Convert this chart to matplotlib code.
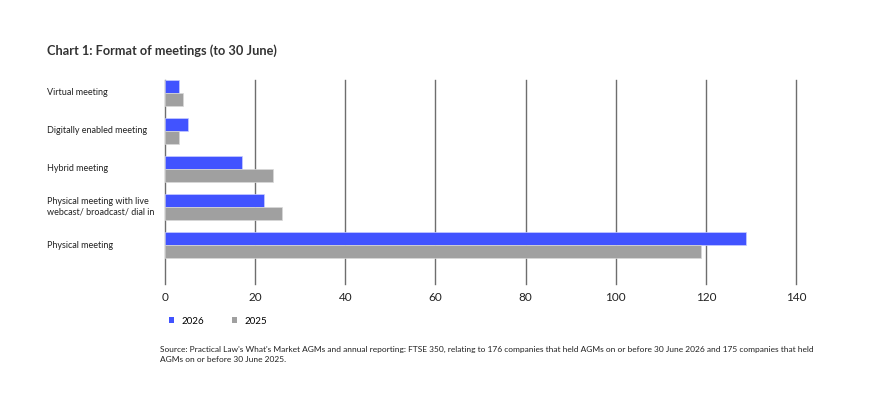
import matplotlib
matplotlib.use("Agg")
import matplotlib.pyplot as plt
import matplotlib.transforms as mtransforms
from matplotlib.patches import Patch
import numpy as np

plt.rcParams['font.family'] = ['Lato', 'DejaVu Sans']

categories = ["Virtual meeting", "Digitally enabled meeting", "Hybrid meeting",
              "Physical meeting with live\nwebcast/ broadcast/ dial in", "Physical meeting"]
series_names = ["2026", "2025"]
values_2026 = [3, 5, 17, 22, 129]
values_2025 = [4, 3, 24, 26, 119]
xticks = [0, 20, 40, 60, 80, 100, 120, 140]
title = "Chart 1: Format of meetings (to 30 June)"
source = ("Source: Practical Law's What's Market AGMs and annual reporting: FTSE 350, relating to 176 companies that held AGMs on or before 30 June 2026 and 175 companies that held\n"
          "AGMs on or before 30 June 2025.")

blue = "#4153FF"
gray = "#A0A0A0"

fig = plt.figure(figsize=(8.77, 4.16), dpi=100)
ax = fig.add_axes([165/877, 1-284/416, (796-165)/877, (284-80)/416])

y = np.arange(len(categories))
h = 0.34
ax.barh(y - h/2, values_2026, height=h, color=blue, edgecolor="#C8CCFF", linewidth=0.5, zorder=3)
ax.barh(y + h/2, values_2025, height=h, color=gray, edgecolor="#D8D8D8", linewidth=0.5, zorder=3)

ax.set_xlim(0, 140)
ax.set_ylim(len(categories) - 1 + 1.02, -0.33)
ax.set_xticks(xticks)
ax.set_xticklabels([str(t) for t in xticks], fontsize=8.5, color="#222222")
ax.tick_params(axis='x', length=0, pad=6)
ax.set_yticks([])
for s in ax.spines.values():
    s.set_visible(False)
for t in xticks:
    ax.axvline(t, color="#6E6E6E", linewidth=1.0, zorder=1, clip_on=False)

trans = mtransforms.blended_transform_factory(fig.transFigure, ax.transData)
for i, c in enumerate(categories):
    ax.text(47/877, i, c, transform=trans, ha='left', va='center', fontsize=6.5,
            color="#222222", linespacing=1.25)

fig.text(47/877, 1-51/416, title, fontsize=9.2, fontweight='bold', color="#333333",
         ha='left', va='center')

handles = [Patch(facecolor=blue, edgecolor='none'), Patch(facecolor=gray, edgecolor='none')]
fig.legend(handles, series_names, loc='center left', bbox_to_anchor=(160/877, 1-321/416),
           ncol=2, frameon=False, fontsize=7, handlelength=0.55, handleheight=0.55,
           handletextpad=0.8, columnspacing=2.8)

fig.text(160/877, 1-354/416, source, fontsize=6, color="#222222", ha='left', va='center',
         linespacing=1.5)

fig.savefig("out.png", dpi=100, facecolor="white")
